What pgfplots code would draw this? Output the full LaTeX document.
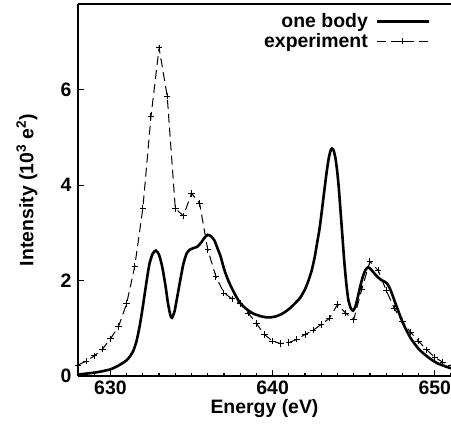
\documentclass[border=0pt]{standalone}
\usepackage{fontspec}
\setmainfont{Liberation Sans}
\usepackage{pgfplots}
\pgfplotsset{compat=1.18}
\begin{document}
\begin{tikzpicture}
\begin{axis}[
  scale only axis,
  width=373bp, height=372bp,
  xmin=628, xmax=651, ymin=0, ymax=7.8,
  axis x line*=box, axis y line*=left,
  axis line style={line width=2.4bp},
  xtick={630,640,650}, ytick={0,2,4,6},
  minor xtick={628,629,631,632,633,634,635,636,637,638,639,641,642,643,644,645,646,647,648,649,651},
  xtick pos=bottom, ytick pos=left,
  tick align=inside,
  major tick length=6bp, minor tick length=3bp,
  every tick/.style={black, line width=1.2bp},
  /pgf/number format/assume math mode=true,
  font=\fontsize{19.5}{21}\selectfont\bfseries,
  ticklabel style={font=\fontsize{19.5}{21}\selectfont\bfseries},
  yticklabel style={xshift=-3bp},
  xticklabel style={yshift=-1bp},
  xlabel={Energy (eV)},
  ylabel={Intensity (10\textsuperscript{3} e\textsuperscript{2})},
  xlabel style={at={(axis description cs:0.5,-0.088)}, anchor=center},
  ylabel style={at={(axis description cs:-0.137,0.5)}, anchor=center},
  legend cell align=right,
  legend plot pos=right,
  legend style={at={(axis description cs:0.944,0.978)}, anchor=north east, draw=none, fill=none,
    inner sep=0pt, row sep=1bp, column sep=6bp,
    nodes={inner sep=1.5bp}, font=\fontsize{19.5}{21}\selectfont\bfseries},
  legend image code/.code={\draw[mark repeat=2,mark phase=2,#1] plot coordinates {(0bp,0bp) (26bp,0bp) (52bp,0bp)};},
  clip=true,
]
\coordinate (sw) at (rel axis cs:0,0);
\addplot[black, line width=2.6bp, smooth, tension=0.4] coordinates {
(628.0,0.03) (628.5,0.05) (629.0,0.07) (629.5,0.10) (630.0,0.14) (630.4,0.20) (630.7,0.26)
(631.0,0.33) (631.2,0.41) (631.4,0.52) (631.6,0.72) (631.8,1.04) (632.0,1.46) (632.2,1.92)
(632.4,2.34) (632.6,2.56) (632.8,2.63) (633.0,2.54) (633.2,2.28) (633.4,1.88) (633.55,1.52)
(633.7,1.27) (633.8,1.22) (633.95,1.35) (634.1,1.62) (634.3,2.00) (634.5,2.35) (634.7,2.57)
(634.9,2.65) (635.1,2.68) (635.35,2.71) (635.6,2.80) (635.8,2.90) (636.0,2.96)
(636.2,2.93) (636.4,2.85) (636.6,2.68) (636.8,2.50) (637.0,2.25) (637.2,2.06) (637.4,1.90)
(637.7,1.70) (638.0,1.53) (638.4,1.40) (638.8,1.31) (639.2,1.26) (639.6,1.23) (639.9,1.23)
(640.2,1.25) (640.5,1.29) (640.8,1.35) (641.1,1.43) (641.4,1.53) (641.7,1.64) (642.0,1.82)
(642.2,1.99) (642.4,2.20) (642.6,2.50) (642.75,2.80) (642.9,3.10) (643.05,3.50) (643.2,3.92)
(643.35,4.32) (643.48,4.60) (643.58,4.73) (643.66,4.77) (643.76,4.73) (643.87,4.58)
(643.98,4.30) (644.08,3.95) (644.18,3.50) (644.3,2.95) (644.42,2.40) (644.55,1.92)
(644.67,1.60) (644.82,1.42) (644.96,1.37) (645.1,1.45) (645.27,1.68) (645.42,1.90)
(645.57,2.09) (645.72,2.22) (645.88,2.28) (646.05,2.24) (646.3,2.14) (646.5,2.07)
(646.71,2.01) (646.95,1.97) (647.12,1.91) (647.3,1.78) (647.43,1.66) (647.6,1.50)
(647.84,1.28) (648.05,1.10) (648.25,0.96) (648.5,0.80) (648.77,0.67) (649.0,0.57)
(649.28,0.48) (649.6,0.39) (649.9,0.32) (650.2,0.26) (650.51,0.22) (651.0,0.16)
};
\addlegendentry{one body}
\addplot[black, line width=1bp, dash pattern=on 9bp off 5bp, mark=+, mark size=3.2bp,
  mark options={solid, line width=1bp}] coordinates {
(628.0,0.23) (628.5,0.31) (629.0,0.42) (629.5,0.56) (630.0,0.78) (630.5,1.04) (631.0,1.52)
(631.5,2.30) (632.0,3.52) (632.5,5.44) (633.0,6.88) (633.5,5.87) (634.0,3.51) (634.5,3.36)
(635.0,3.83) (635.5,3.62) (636.0,2.65) (636.5,2.09) (637.0,1.74) (637.5,1.62) (638.0,1.52)
(638.5,1.32) (639.0,1.10) (639.5,0.87) (640.0,0.73) (640.5,0.68) (641.0,0.70) (641.5,0.77)
(642.0,0.87) (642.5,0.96) (643.0,1.08) (643.5,1.21) (644.0,1.50) (644.5,1.32) (645.0,1.18)
(645.5,1.82) (646.0,2.40) (646.5,2.22) (647.0,1.80) (647.5,1.42) (648.0,1.14) (648.5,0.92)
(649.0,0.73) (649.5,0.55) (650.0,0.39) (650.5,0.29) (651.0,0.22)
};
\addlegendentry{experiment}
\end{axis}
\pgfresetboundingbox
\useasboundingbox (sw) ++(-78bp,-61bp) rectangle ++(451bp,437bp);
\end{tikzpicture}
\end{document}
